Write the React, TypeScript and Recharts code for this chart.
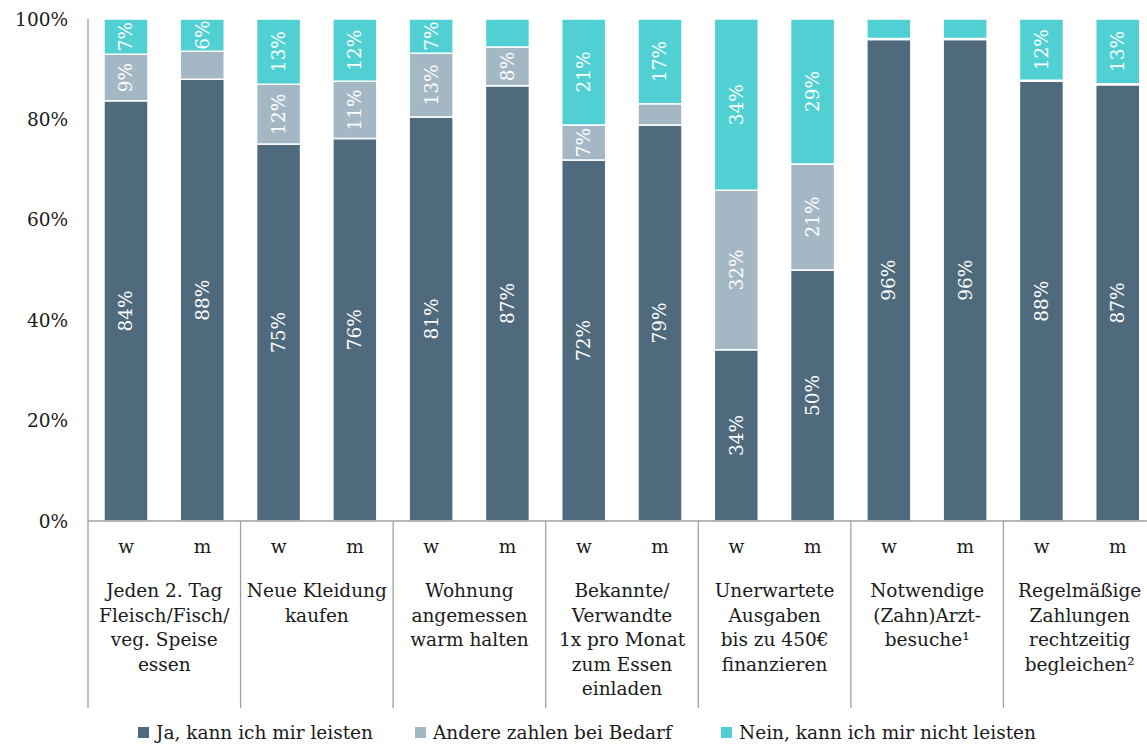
import React from "react"
import { BarChart, Bar, XAxis, YAxis, Legend, LabelList } from "recharts"

const FONT = "'DejaVu Serif', serif"
const TEXT = "#1a1a1a"
const C_JA = "#4f6a7c"
const C_ANDERE = "#a3b7c4"
const C_NEIN = "#50d0d3"

const groupLines = [
  ["Jeden 2. Tag", "Fleisch/Fisch/", "veg. Speise", "essen"],
  ["Neue Kleidung", "kaufen"],
  ["Wohnung", "angemessen", "warm halten"],
  ["Bekannte/", "Verwandte", "1x pro Monat", "zum Essen", "einladen"],
  ["Unerwartete", "Ausgaben", "bis zu 450€", "finanzieren"],
  ["Notwendige", "(Zahn)Arzt-", "besuche¹"],
  ["Regelmäßige", "Zahlungen", "rechtzeitig", "begleichen²"],
]
const sexes = ["w", "m"]

// share in %, order: each group w then m
const ja = [83.7, 88.0, 75.1, 76.2, 80.5, 86.7, 71.9, 78.9, 34.1, 50.0, 95.9, 95.9, 87.6, 86.9]
const andere = [9.3, 5.6, 11.9, 11.4, 12.7, 7.7, 7.0, 4.2, 31.8, 21.1, 0.2, 0.2, 0.2, 0.2]
const nein = [7.0, 6.4, 13.0, 12.4, 6.8, 5.6, 21.1, 16.9, 34.1, 28.9, 3.9, 3.9, 12.2, 12.9]

const yTicks = [0, 20, 40, 60, 80, 100]

const legendItems = [
  { name: "Ja, kann ich mir leisten", color: C_JA, left: 138 },
  { name: "Andere zahlen bei Bedarf", color: C_ANDERE, left: 415 },
  { name: "Nein, kann ich mir nicht leisten", color: C_NEIN, left: 721 },
]

const data = ja.map((v, i) => ({
  sex: sexes[i % 2],
  group: groupLines[Math.floor(i / 2)][0],
  ja: v,
  andere: andere[i],
  nein: nein[i],
}))

const W = 1156
const H = 745
const LEFT = 88
const BAND = (W - LEFT) / data.length
const FS = 18.5

function SegLabel(props: any) {
  const { x, y, width, height, value } = props
  if (value == null || value < 6) return null
  const cx = x + width / 2
  const cy = y + height / 2
  return (
    <text
      x={cx}
      y={cy}
      transform={`rotate(-90 ${cx} ${cy})`}
      textAnchor="middle"
      dominantBaseline="central"
      fill="#fff"
      fontSize={FS}
      fontFamily={FONT}
    >
      {Math.round(value)}%
    </text>
  )
}

function SexTick(props: any) {
  const { x, y, payload } = props
  return (
    <text x={x} y={y + 24} textAnchor="middle" fill={TEXT} fontSize={FS} fontFamily={FONT}>
      {payload.value}
    </text>
  )
}

function GroupTick(props: any) {
  const { x, y, payload } = props
  if (payload.index % 2 !== 0) return null
  const lines = groupLines[payload.index / 2]
  const cx = x + BAND / 2
  const left = x - BAND / 2
  return (
    <g>
      <line x1={left} x2={left} y1={y - 54} y2={y + 133} stroke="#a0a0a0" strokeWidth={1.3} />
      <text textAnchor="middle" fill={TEXT} fontSize={FS} fontFamily={FONT}>
        {lines.map((l, k) => (
          <tspan key={k} x={cx} y={y + 22 + k * 24.5}>
            {l}
          </tspan>
        ))}
      </text>
    </g>
  )
}

function LegendBox() {
  return (
    <div style={{ position: "relative", width: W, height: 37 }}>
      {legendItems.map((it) => (
        <div
          key={it.name}
          style={{
            position: "absolute",
            left: it.left,
            top: 14,
            display: "flex",
            alignItems: "center",
            fontFamily: FONT,
            fontSize: FS,
            color: TEXT,
            whiteSpace: "nowrap",
          }}
        >
          <span style={{ width: 11, height: 11, background: it.color, marginRight: 7, display: "inline-block" }} />
          {it.name}
        </div>
      ))}
    </div>
  )
}

export default function App() {
  return (
    <div style={{ position: "fixed", left: 0, top: 0, width: 1147, height: H, overflow: "hidden", background: "#fff" }}>
      <BarChart width={W} height={H} data={data} margin={{ top: 19, right: 0, left: 0, bottom: 0 }} barSize={44}>
        <YAxis
          domain={[0, 100]}
          ticks={yTicks}
          width={LEFT}
          tickFormatter={(v) => `${v}%`}
          tick={{ fill: TEXT, fontSize: FS, fontFamily: FONT }}
          tickLine={false}
          tickMargin={14}
          axisLine={{ stroke: "#a0a0a0", strokeWidth: 1.3 }}
        />
        <XAxis
          dataKey="sex"
          height={46}
          tickLine={false}
          axisLine={{ stroke: "#a0a0a0", strokeWidth: 1.3 }}
          tick={<SexTick />}
          interval={0}
        />
        <XAxis
          xAxisId="grp"
          dataKey="group"
          height={141}
          tickLine={false}
          axisLine={false}
          tick={<GroupTick />}
          interval={0}
        />
        <Legend verticalAlign="bottom" height={37} content={() => <LegendBox />} wrapperStyle={{ left: 0, width: W }} />
        <Bar dataKey="ja" name="Ja, kann ich mir leisten" stackId="s" fill={C_JA} stroke="#fff" strokeWidth={1.5} isAnimationActive={false}>
          <LabelList dataKey="ja" content={<SegLabel />} />
        </Bar>
        <Bar dataKey="andere" name="Andere zahlen bei Bedarf" stackId="s" fill={C_ANDERE} stroke="#fff" strokeWidth={1.5} isAnimationActive={false}>
          <LabelList dataKey="andere" content={<SegLabel />} />
        </Bar>
        <Bar dataKey="nein" name="Nein, kann ich mir nicht leisten" stackId="s" fill={C_NEIN} stroke="#fff" strokeWidth={1.5} isAnimationActive={false}>
          <LabelList dataKey="nein" content={<SegLabel />} />
        </Bar>
      </BarChart>
    </div>
  )
}
